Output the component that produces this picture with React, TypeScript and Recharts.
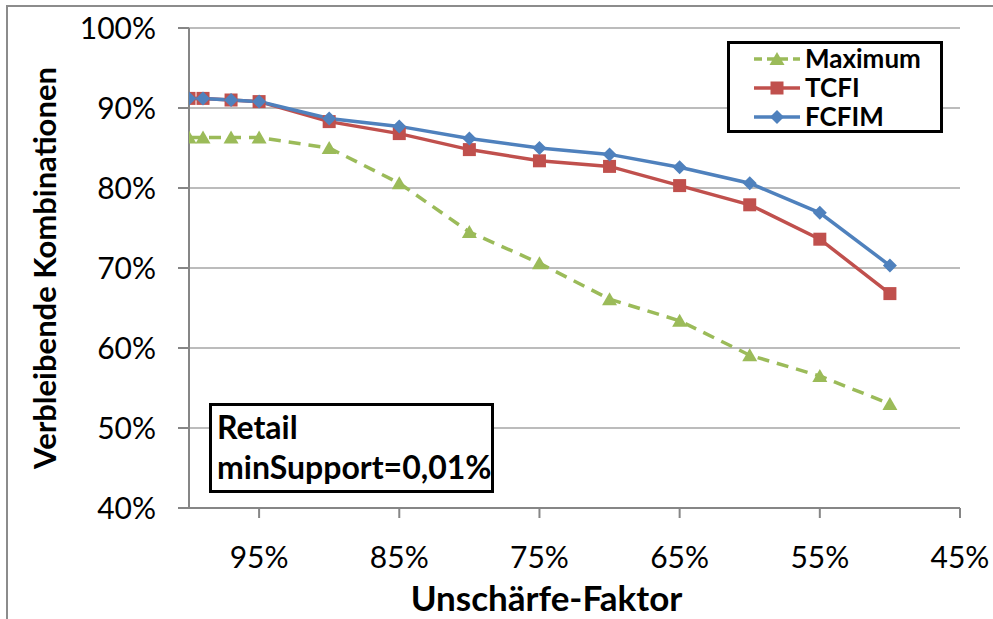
import React from 'react'
import { LineChart, Line, XAxis, YAxis, CartesianGrid, Legend, Label } from 'recharts'

// Unschärfe-Faktor in % (x axis, reversed)
const faktor = [100, 99, 97, 95, 90, 85, 80, 75, 70, 65, 60, 55, 50]

// remaining combinations in %
const maximum = [86.3, 86.3, 86.3, 86.3, 85.0, 80.6, 74.5, 70.6, 66.1, 63.4, 59.1, 56.5, 53.0]
const tcfi = [91.2, 91.2, 91.0, 90.8, 88.3, 86.8, 84.8, 83.4, 82.7, 80.3, 77.9, 73.6, 66.8]
const fcfim = [91.2, 91.2, 91.0, 90.8, 88.7, 87.7, 86.2, 85.0, 84.2, 82.6, 80.6, 76.9, 70.3]

const xTicks = [95, 85, 75, 65, 55, 45]
const yTicks = [40, 50, 60, 70, 80, 90, 100]

const GREEN = '#9bbb59'
const RED = '#c0504d'
const BLUE = '#4f81bd'
const FONT = 'Lato, "Open Sans", sans-serif'

const data = faktor.map((f, i) => ({
  faktor: f,
  maximum: maximum[i],
  tcfi: tcfi[i],
  fcfim: fcfim[i],
}))

const Triangle = ({ cx, cy }: any) => {
  if (cx == null || cy == null) return null
  return <polygon points={`${cx},${cy - 7} ${cx + 7.5},${cy + 6} ${cx - 7.5},${cy + 6}`} fill={GREEN} />
}

const Square = ({ cx, cy }: any) => {
  if (cx == null || cy == null) return null
  return <rect x={cx - 6.5} y={cy - 6.5} width={13} height={13} fill={RED} />
}

const Diamond = ({ cx, cy }: any) => {
  if (cx == null || cy == null) return null
  return <polygon points={`${cx},${cy - 7} ${cx + 7},${cy} ${cx},${cy + 7} ${cx - 7},${cy}`} fill={BLUE} />
}

const legendItems = [
  { name: 'Maximum', color: GREEN, dash: '8 5', Marker: Triangle },
  { name: 'TCFI', color: RED, dash: undefined, Marker: Square },
  { name: 'FCFIM', color: BLUE, dash: undefined, Marker: Diamond },
]

const LegendBox = () => (
  <div
    style={{
      boxSizing: 'border-box',
      width: 216,
      height: 92,
      border: '3px solid #000',
      background: '#fff',
      padding: '0 0 0 22px',
      fontFamily: FONT,
      fontWeight: 700,
      fontSize: 26,
      lineHeight: '29px',
    }}
  >
    {legendItems.map(({ name, color, dash, Marker }) => (
      <div key={name} style={{ display: 'flex', alignItems: 'center' }}>
        <svg width={50} height={29}>
          <line x1={2} y1={15} x2={48} y2={15} stroke={color} strokeWidth={3.5} strokeDasharray={dash} />
          <Marker cx={25} cy={15} />
        </svg>
        <span style={{ marginLeft: 3 }}>{name}</span>
      </div>
    ))}
  </div>
)

const tickStyle = { fontFamily: FONT, fontSize: 30, fill: '#000' }

export default function App() {
  return (
    <div
      style={{
        position: 'absolute',
        left: 0,
        top: 0,
        width: 993,
        height: 619,
        overflow: 'hidden',
        background: '#fff',
      }}
    >
      <div
        style={{
          position: 'absolute',
          left: 6,
          top: 5,
          width: 987,
          height: 614,
          boxSizing: 'border-box',
          borderLeft: '2px solid #8c8c8c',
          borderTop: '2px solid #8c8c8c',
        }}
      />
      <div style={{ position: 'absolute', left: 0, top: 0 }}>
        <LineChart width={993} height={619} data={data} margin={{ top: 28, right: 33, left: 0, bottom: 0 }}>
          <CartesianGrid vertical={false} stroke="#a6a6a6" strokeWidth={1.5} />
          <XAxis
            dataKey="faktor"
            type="number"
            domain={[45, 100]}
            reversed
            ticks={xTicks}
            tickFormatter={(v: number) => `${v}%`}
            height={111}
            stroke="#868686"
            strokeWidth={2}
            tickSize={10}
            tickMargin={29}
            tick={tickStyle}
            allowDataOverflow
          >
            <Label
              value="Unschärfe-Faktor"
              position="insideBottom"
              offset={8}
              dx={-28}
              style={{ fontFamily: FONT, fontSize: 35, fontWeight: 700, fill: '#000' }}
            />
          </XAxis>
          <YAxis
            type="number"
            domain={[40, 100]}
            ticks={yTicks}
            tickFormatter={(v: number) => `${v}%`}
            width={189}
            stroke="#868686"
            strokeWidth={2}
            tickSize={11}
            tickMargin={22}
            tick={tickStyle}
            allowDataOverflow
          >
            <Label
              value="Verbleibende Kombinationen"
              angle={-90}
              position="center"
              dx={-50}
              style={{ fontFamily: FONT, fontSize: 31, fontWeight: 700, fill: '#000', textAnchor: 'middle' }}
            />
          </YAxis>
          <Legend
            layout="vertical"
            align="center"
            verticalAlign="middle"
            content={() => <LegendBox />}
            wrapperStyle={{ top: 41, left: 727, width: 216, height: 92 }}
          />
          <Line
            dataKey="maximum"
            name="Maximum"
            stroke={GREEN}
            strokeWidth={3.5}
            strokeDasharray="12 8"
            dot={<Triangle />}
            isAnimationActive={false}
          />
          <Line
            dataKey="tcfi"
            name="TCFI"
            stroke={RED}
            strokeWidth={3.5}
            dot={<Square />}
            isAnimationActive={false}
          />
          <Line
            dataKey="fcfim"
            name="FCFIM"
            stroke={BLUE}
            strokeWidth={3.5}
            dot={<Diamond />}
            isAnimationActive={false}
          />
        </LineChart>
      </div>
      <div
        style={{
          position: 'absolute',
          left: 209,
          top: 403,
          width: 285,
          height: 90,
          boxSizing: 'border-box',
          border: '3px solid #000',
          background: '#fff',
          padding: '1px 0 0 5px',
          fontFamily: FONT,
          fontWeight: 700,
          fontSize: 32,
          lineHeight: '40px',
        }}
      >
        Retail
        <br />
        minSupport=0,01%
      </div>
    </div>
  )
}
